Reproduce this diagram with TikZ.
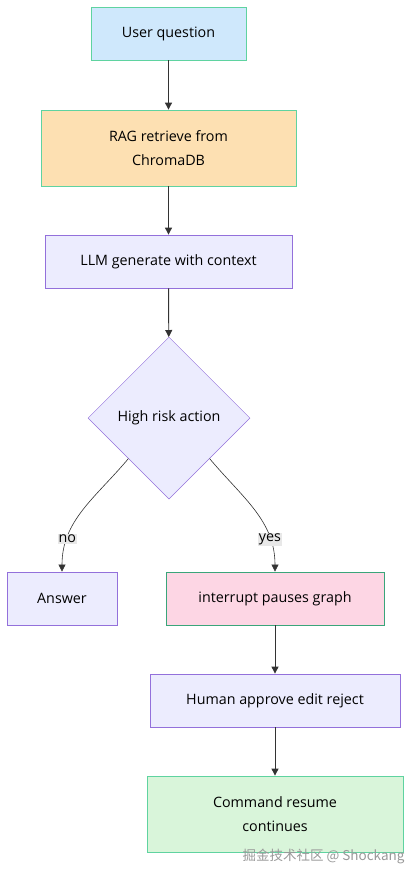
\documentclass[tikz,border=0pt]{standalone}
\usepackage{fontspec}
\setmainfont{Open Sans}
\newfontfamily\cjkfont{Noto Sans CJK SC}
\usetikzlibrary{shapes.geometric,arrows.meta}

\definecolor{usrfill}{HTML}{CFE8FC}
\definecolor{ragfill}{HTML}{FDE0B2}
\definecolor{purfill}{HTML}{ECECFE}
\definecolor{purline}{HTML}{9370DB}
\definecolor{grnline}{HTML}{5FD3A0}
\definecolor{darkgrn}{HTML}{3AA57A}
\definecolor{intfill}{HTML}{FDD6E4}
\definecolor{cmdfill}{HTML}{D9F5DA}
\definecolor{lblfill}{HTML}{E8E8E8}
\definecolor{arrowc}{HTML}{333333}

\tikzset{
  box/.style={draw, line width=0.8pt, inner sep=0pt, align=center, font=\fontsize{14.3}{24}\selectfont},
  flow/.style={-{Triangle[length=7pt,width=7pt]}, draw=arrowc, line width=0.9pt},
  lbl/.style={fill=lblfill, inner sep=1pt, font=\fontsize{14.3}{16}\selectfont}
}

\begin{document}
\begin{tikzpicture}[x=1pt,y=-1pt]
        \useasboundingbox (0,0) rectangle (419,878);
        % main column
        \node[box, fill=usrfill, draw=grnline, minimum width=155pt, minimum height=53pt] (ask) at (168.5,33.5) {User question};
        \node[box, fill=ragfill, draw=grnline, minimum width=255pt, minimum height=76pt] (rag) at (168.5,148) {RAG retrieve from\\ChromaDB};
        \node[box, fill=purfill, draw=purline, minimum width=247pt, minimum height=53pt] (llm) at (168.5,261.5) {LLM generate with context};
        \node[box, diamond, aspect=1, fill=purfill, draw=purline, line width=0.5pt, minimum width=162pt, minimum height=162pt] (risk) at (169,418) {High risk action};
        % branches
        \node[box, fill=purfill, draw=purline, minimum width=110pt, minimum height=53pt] (ans) at (62,598.5) {Answer};
        \node[box, fill=intfill, draw=darkgrn, minimum width=218pt, minimum height=53pt] (intr) at (275,598.5) {interrupt pauses graph};
        \node[box, fill=purfill, draw=purline, minimum width=250pt, minimum height=53pt] (human) at (275,700.5) {Human approve edit reject};
        \node[box, fill=cmdfill, draw=grnline, minimum width=256pt, minimum height=76pt] (cmd) at (275,814) {Command resume\\continues};
        % connectors
        \draw[flow] (ask) -- (rag);
        \draw[flow] (rag) -- (llm);
        \draw[flow] (llm) -- (risk);
        \draw[flow, line width=0.6pt] (risk.south west) to[out=-130,in=90] node[lbl, pos=0.76] {no} (ans.north);
        \draw[flow, line width=0.6pt] (risk.south east) to[out=-50,in=90] node[lbl, pos=0.76] {yes} (intr.north);
        \draw[flow] (intr) -- (human);
        \draw[flow] (human) -- (cmd);
        % watermark
        \node[text=black!40, font=\fontsize{13.5}{15}\selectfont, anchor=east] (mark) at (408,856) {\cjkfont 掘金技术社区\ @\ Shockang};
\end{tikzpicture}
\end{document}
